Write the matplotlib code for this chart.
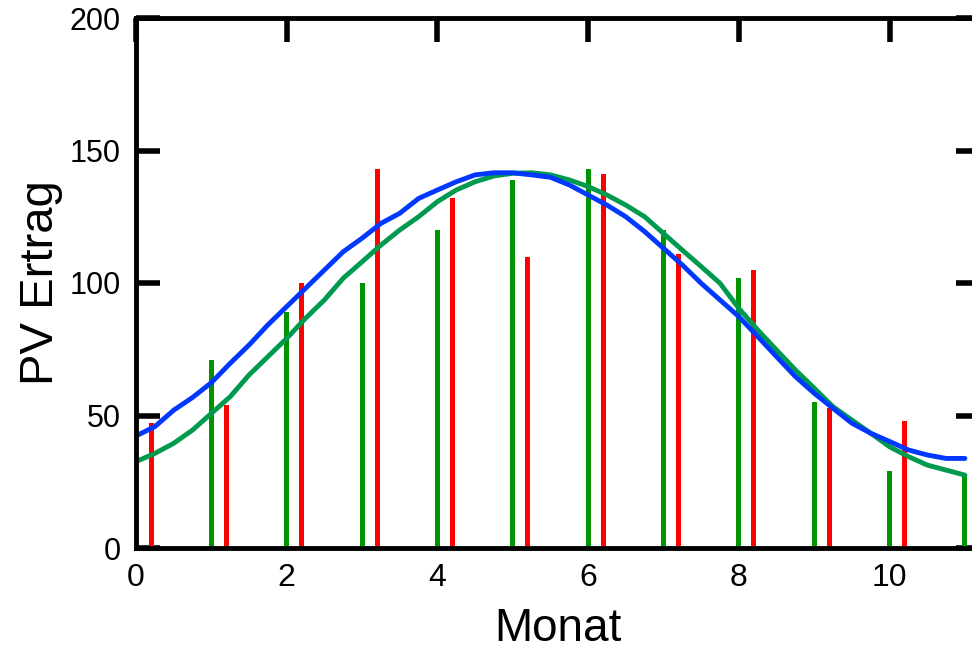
import matplotlib

matplotlib.use("Agg")
from matplotlib import pyplot as plt  # noqa: E402

FONT = "Liberation Sans"
BAR_GREEN = "#009400"
BAR_RED = "#FF0000"
LINE_BLUE = "#0038FF"
LINE_GREEN = "#009A4E"

# monthly yields (bars)
months = list(range(12))
ertrag_a = [24, 71, 89, 100, 120, 139, 143, 120, 102, 55, 29, 27]
months_b = [m + 0.2 for m in range(11)]
ertrag_b = [47, 54, 100, 143, 132, 110, 141, 111, 105, 53, 48]

curve_x = [i / 4 for i in range(45)]
curve_blue = [42.3, 45.8, 52.0, 56.8, 62.4, 69.7, 76.6, 84.2, 91.1,
              98.0, 104.9, 111.8, 116.9, 122.5, 126.3, 131.9, 135.1,
              138.2, 140.8, 141.6, 141.6, 140.8, 139.9, 137.0, 133.2,
              129.4, 125.0, 119.4, 113.1, 106.8, 99.9, 93.6, 87.3,
              79.8, 72.2, 64.7, 58.4, 52.7, 47.1, 43.3, 40.2, 37.0,
              35.1, 33.8, 33.8]
curve_green = [32.6, 35.7, 39.5, 44.5, 50.8, 57.1, 65.3, 72.2, 79.1,
               86.7, 93.6, 101.8, 108.0, 114.3, 120.0, 125.0, 130.7,
               135.1, 138.2, 140.4, 141.4, 141.6, 140.8, 138.9, 136.4,
               133.2, 129.4, 125.0, 118.7, 112.4, 106.2, 99.9, 90.4,
               82.3, 74.7, 67.2, 60.3, 53.3, 48.3, 43.3, 38.2, 34.5,
               31.3, 29.4, 27.5]

plt.rcParams["font.family"] = [FONT, "DejaVu Sans"]

fig = plt.figure(figsize=(9.72, 6.53), dpi=100)
fig.patch.set_facecolor("white")
ax = fig.add_axes([136 / 972, 105 / 653, 844 / 972, 530 / 653])

ax.bar(months, ertrag_a, width=0.066, color=BAR_GREEN, zorder=2)
ax.bar(months_b, ertrag_b, width=0.066, color=BAR_RED, zorder=2)

ax.plot(curve_x, curve_green, color=LINE_GREEN, linewidth=3.5,
        solid_capstyle="round", solid_joinstyle="round", zorder=3)
ax.plot(curve_x, curve_blue, color=LINE_BLUE, linewidth=3.5,
        solid_capstyle="round", solid_joinstyle="round", zorder=4)

ax.set_xlim(0, 11.2)
ax.set_ylim(0, 200)
ax.set_xticks([0, 2, 4, 6, 8, 10])
ax.set_yticks([0, 50, 100, 150, 200])

for s in ("left", "top", "bottom", "right"):
    ax.spines[s].set_linewidth(3.5)
    ax.spines[s].set_color("black")
    ax.spines[s].set_zorder(5)

ax.tick_params(axis="x", direction="in", bottom=False, top=True,
               labelbottom=True, labeltop=False, length=17, width=4,
               labelsize=23, pad=11)
ax.tick_params(axis="y", direction="in", left=True, right=True,
               labelleft=True, labelright=False, length=17, width=4,
               labelsize=22, pad=11)
for t in ax.xaxis.get_ticklines() + ax.yaxis.get_ticklines():
    t.set_solid_capstyle("round")

ax.set_xlabel("Monat", fontsize=33, labelpad=10)
ax.set_ylabel("PV Ertrag", fontsize=34, labelpad=5)

fig.savefig("out.png", dpi=100, facecolor="white")
plt.close(fig)
